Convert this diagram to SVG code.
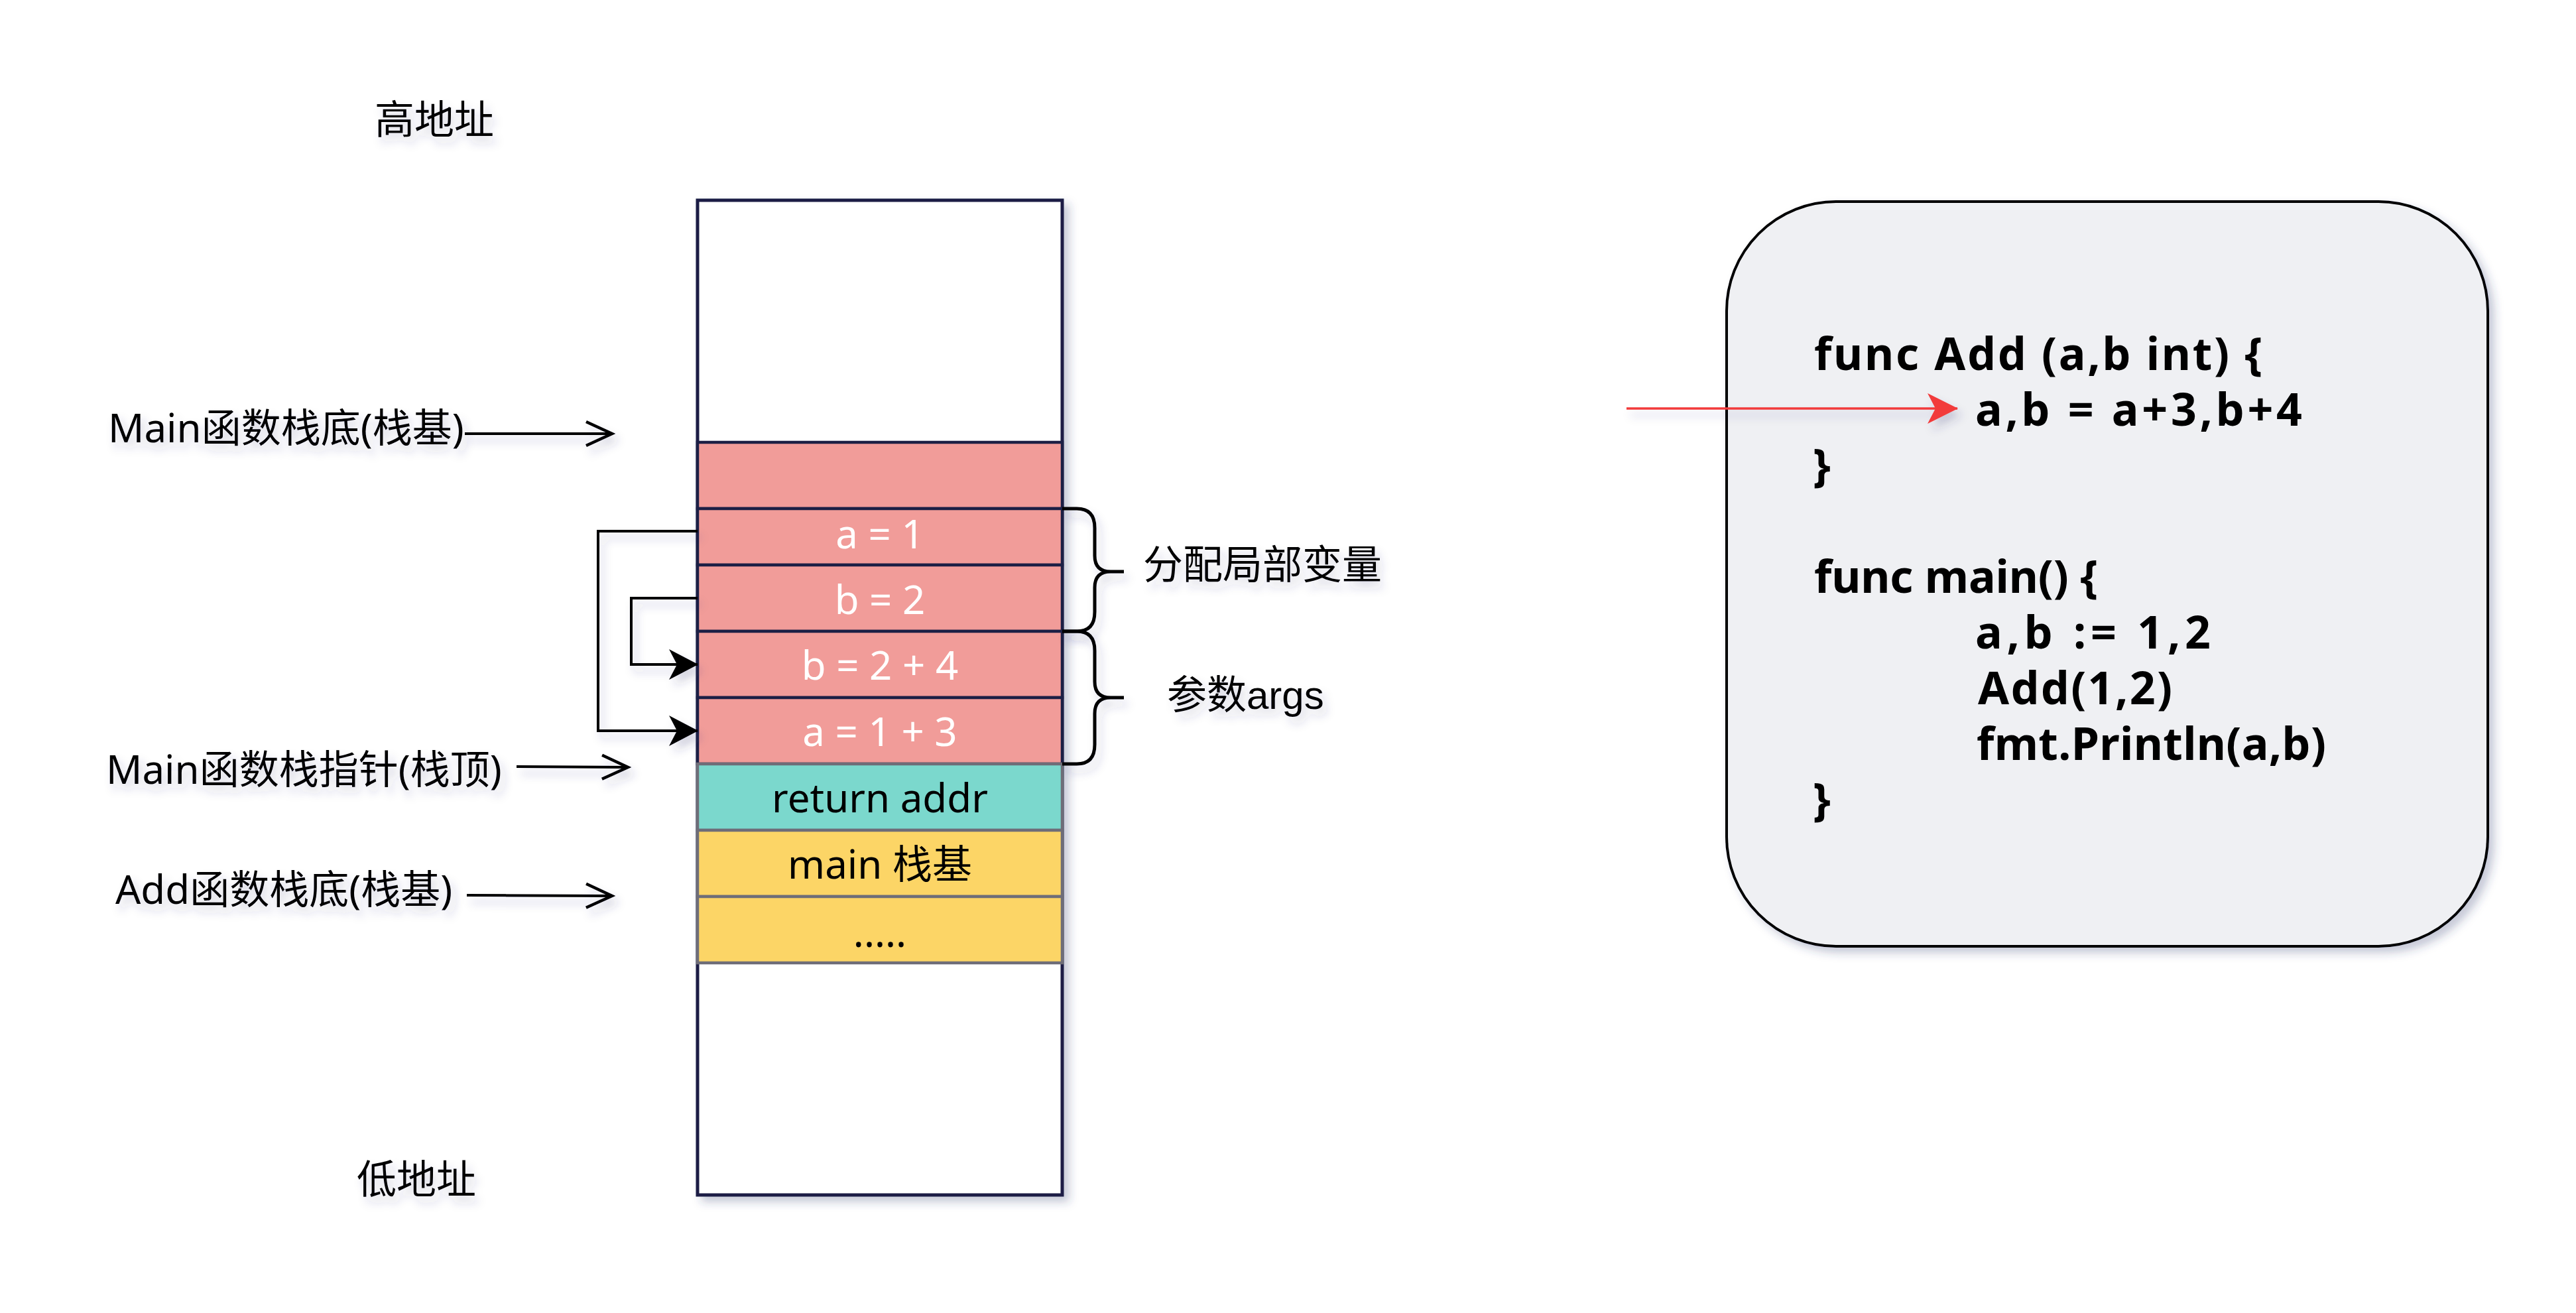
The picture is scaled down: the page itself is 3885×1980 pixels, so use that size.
<svg xmlns="http://www.w3.org/2000/svg" width="3885" height="1980" viewBox="0 0 3885 1980">
  <style>
    .lbl { font-family: "Noto Sans", "Noto Sans CJK SC", sans-serif; font-size: 60px; fill: #000; }
    .lbl2 { font-family: "Liberation Sans", "Noto Sans CJK SC", sans-serif; font-size: 60px; fill: #000; }
    .cell { font-family: "Noto Sans", "Noto Sans CJK SC", sans-serif; font-size: 60px; text-anchor: middle; }
    .w { fill: #ffffff; }
    .k { fill: #000000; }
    .code { font-family: "Noto Sans", "Noto Sans CJK SC", sans-serif; font-size: 68px; font-weight: bold; fill: #000; }
    .pink { fill: #F19C99; stroke: #1C1F45; stroke-width: 4.5; }
    .teal { fill: #7BD8CD; stroke: #6E6D78; stroke-width: 4.5; }
    .yel { fill: #FCD566; stroke: #6E6D78; stroke-width: 4.5; }
    .conn { fill: none; stroke: #000; stroke-width: 4; }
    .brace { fill: none; stroke: #000; stroke-width: 5; stroke-linejoin: round; }
  </style>
  <defs>
    <filter id="sh" x="-10%" y="-10%" width="130%" height="130%">
      <feDropShadow dx="8" dy="8" stdDeviation="7" flood-color="#2E3770" flood-opacity="0.28"/>
    </filter>
    <filter id="tsh" x="-10%" y="-30%" width="130%" height="180%">
      <feDropShadow dx="6" dy="10" stdDeviation="7" flood-color="#2E3770" flood-opacity="0.22"/>
    </filter>
    <filter id="csh" filterUnits="userSpaceOnUse" x="0" y="0" width="3885" height="1980">
      <feDropShadow dx="6" dy="10" stdDeviation="7" flood-color="#2E3770" flood-opacity="0.22"/>
    </filter>
    <marker id="arrFill" markerUnits="userSpaceOnUse" viewBox="0 0 44 46" markerWidth="44" markerHeight="46" refX="43" refY="23" orient="auto">
      <path d="M0,0 L44,23 L0,46 L12,23 Z" fill="#000"/>
    </marker>
    <marker id="arrOpen" markerUnits="userSpaceOnUse" viewBox="-4 -4 48 46" markerWidth="48" markerHeight="46" refX="39" refY="18" orient="auto" overflow="visible">
      <path d="M0,0 L39,18 L0,36" fill="none" stroke="#000" stroke-width="4.5"/>
    </marker>
    <marker id="arrRed" markerUnits="userSpaceOnUse" viewBox="0 0 46 46" markerWidth="46" markerHeight="46" refX="45" refY="23" orient="auto">
      <path d="M0,0 L46,23 L0,46 L12,23 Z" fill="#F23B3B"/>
    </marker>
  </defs>

  <rect width="3885" height="1980" fill="#ffffff"/>

  <g id="label-high" filter="url(#tsh)">
    <text class="lbl" x="565" y="202">高地址</text>
  </g>
  <g id="label-low" filter="url(#tsh)">
    <text class="lbl" x="538" y="1800">低地址</text>
  </g>
  <g id="label-main-base" filter="url(#tsh)">
    <text class="lbl" x="163" y="667">Main函数栈底(栈基)</text>
  </g>
  <g id="label-main-sp" filter="url(#tsh)">
    <text class="lbl" x="160" y="1182">Main函数栈指针(栈顶)</text>
  </g>
  <g id="label-add-base" filter="url(#tsh)">
    <text class="lbl" x="174" y="1363">Add函数栈底(栈基)</text>
  </g>

  <g id="stack">
    <rect id="stack-frame" x="1052" y="302" width="550" height="1500" fill="#ffffff" stroke="#1C1F45" stroke-width="5" filter="url(#sh)"/>
    <g id="row-empty"><rect class="pink" x="1052" y="667" width="550" height="100"/></g>
    <g id="row-a1"><rect class="pink" x="1052" y="767" width="550" height="85"/><text class="cell w" x="1327" y="827">a = 1</text></g>
    <g id="row-b2"><rect class="pink" x="1052" y="852" width="550" height="100"/><text class="cell w" x="1327" y="926">b = 2</text></g>
    <g id="row-b24"><rect class="pink" x="1052" y="952" width="550" height="100"/><text class="cell w" x="1327" y="1025">b = 2 + 4</text></g>
    <g id="row-a13"><rect class="pink" x="1052" y="1052" width="550" height="100"/><text class="cell w" x="1327" y="1125">a = 1 + 3</text></g>
    <g id="row-ret"><rect class="teal" x="1052" y="1152" width="550" height="100"/><text class="cell k" x="1327" y="1225">return addr</text></g>
    <g id="row-mainbase"><rect class="yel" x="1052" y="1252" width="550" height="100"/><text class="cell k" x="1327" y="1325">main 栈基</text></g>
    <g id="row-dots"><rect class="yel" x="1052" y="1352" width="550" height="100"/><text class="cell k" x="1327" y="1428">.....</text></g>
  </g>

  <g id="brace-locals" filter="url(#csh)">
    <path class="brace" d="M1602,767 H1624 Q1651,767 1651,796 V838 Q1651,862 1675,862 H1695 M1675,862 Q1651,862 1651,886 V923 Q1651,952 1624,952 H1602"/>
  </g>
  <g id="brace-args" filter="url(#csh)">
    <path class="brace" d="M1602,952 H1624 Q1651,952 1651,981 V1028 Q1651,1052 1675,1052 H1695 M1675,1052 Q1651,1052 1651,1076 V1123 Q1651,1152 1624,1152 H1602"/>
  </g>
  <g id="label-locals" filter="url(#tsh)">
    <text class="lbl2" x="1724" y="873">分配局部变量</text>
  </g>
  <g id="label-args" filter="url(#tsh)">
    <text class="lbl2" x="1760" y="1069">参数args</text>
  </g>

  <g id="code-box">
    <rect x="2604" y="304" width="1148" height="1123" rx="165" ry="165" fill="#EFF0F3" stroke="#000" stroke-width="4" filter="url(#sh)"/>
    <text class="code" x="2736" y="558" textLength="676" lengthAdjust="spacing">func Add (a,b int) {</text>
    <text class="code" x="2979" y="642" textLength="493" lengthAdjust="spacing">a,b = a+3,b+4</text>
    <text class="code" x="2734" y="726">}</text>
    <text class="code" x="2736" y="894" textLength="428" lengthAdjust="spacing">func main() {</text>
    <text class="code" x="2979" y="978" textLength="355" lengthAdjust="spacing">a,b := 1,2</text>
    <text class="code" x="2983" y="1062" textLength="293" lengthAdjust="spacing">Add(1,2)</text>
    <text class="code" x="2981" y="1146" textLength="527" lengthAdjust="spacing">fmt.Println(a,b)</text>
    <text class="code" x="2734" y="1230">}</text>
  </g>

  <g id="connectors" filter="url(#csh)">
    <line class="conn" x1="701" y1="654" x2="923" y2="654" marker-end="url(#arrOpen)"/>
    <line class="conn" x1="779" y1="1156" x2="947" y2="1157" marker-end="url(#arrOpen)"/>
    <line class="conn" x1="704" y1="1350" x2="923" y2="1351" marker-end="url(#arrOpen)"/>
    <path class="conn" d="M1052,801 H902 V1102 H1052" marker-end="url(#arrFill)"/>
    <path class="conn" d="M1052,902 H952 V1002 H1052" marker-end="url(#arrFill)"/>
    <line x1="2453" y1="616" x2="2952" y2="616" stroke="#F23B3B" stroke-width="3.5" marker-end="url(#arrRed)"/>
  </g>
</svg>
